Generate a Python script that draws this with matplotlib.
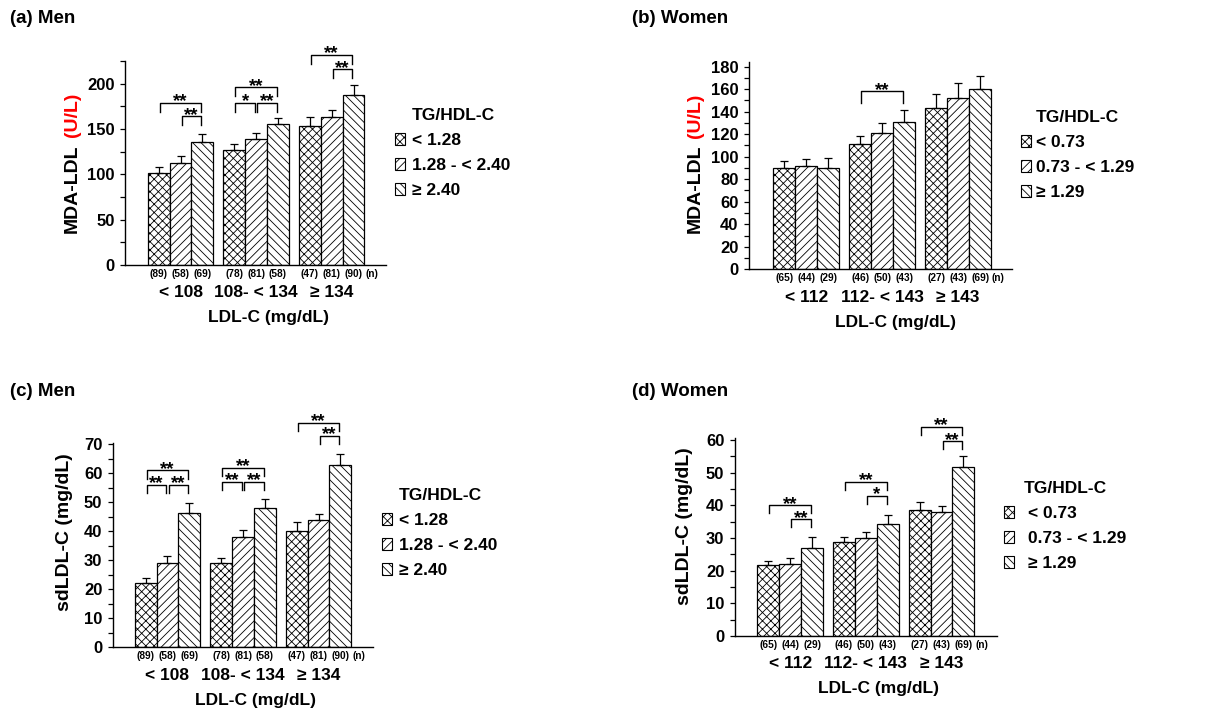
import numpy as np
import matplotlib
matplotlib.use('Agg')
import matplotlib.pyplot as plt
from matplotlib.patches import Patch
from matplotlib.ticker import MultipleLocator

plt.rcParams['font.family'] = ['Liberation Sans', 'DejaVu Sans']
plt.rcParams['font.weight'] = 'bold'
plt.rcParams['hatch.linewidth'] = 0.6

W, H = 1228, 710

# ---- data -------------------------------------------------------------
men_ldl = ['< 108', '108- < 134', '\u2265 134']
women_ldl = ['< 112', '112- < 143', '\u2265 143']
men_tg = ['< 1.28', '1.28 - < 2.40', '\u2265 2.40']
women_tg = ['< 0.73', '0.73 - < 1.29', '\u2265 1.29']
men_n = [[89, 58, 69], [78, 81, 58], [47, 81, 90]]
women_n = [[65, 44, 29], [46, 50, 43], [27, 43, 69]]

# MDA-LDL (U/L): mean and SE, rows = LDL-C group, cols = TG/HDL-C group
mda_men = [[102, 112, 136], [127, 139, 155], [153, 163, 188]]
mda_men_se = [[6, 8, 9], [7, 7, 7], [10, 8, 11]]
mda_women = [[90, 92, 90], [111, 121, 131], [143, 152, 160]]
mda_women_se = [[6, 6, 9], [7, 9, 10], [13, 13, 12]]

# sdLDL-C (mg/dL)
sd_men = [[22.3, 29.2, 46.4], [29.2, 38.0, 47.9], [40.2, 43.8, 62.9]]
sd_men_se = [[1.5, 2.3, 3.5], [1.5, 2.6, 3.4], [2.9, 2.3, 3.7]]
sd_women = [[21.6, 21.9, 26.8], [28.7, 30.0, 34.2], [38.5, 37.9, 51.8]]
sd_women_se = [[1.4, 2.0, 3.6], [1.7, 1.7, 2.9], [2.4, 1.9, 3.3]]

# significance brackets: (LDL-C group, bar i, bar j, height, stars)
mda_men_sig = [(0, 0, 2, 179, '**'), (0, 1, 2, 164, '**'),
               (1, 0, 2, 196, '**'), (1, 0, 1, 179, '*'), (1, 1, 2, 179, '**'),
               (2, 0, 2, 232, '**'), (2, 1, 2, 216, '**')]
mda_women_sig = [(1, 0, 2, 158, '**')]
sd_men_sig = [(0, 0, 2, 61, '**'), (0, 0, 1, 56, '**'), (0, 1, 2, 56, '**'),
              (1, 0, 2, 62, '**'), (1, 0, 1, 57, '**'), (1, 1, 2, 57, '**'),
              (2, 0, 2, 77.5, '**'), (2, 1, 2, 73, '**')]
sd_women_sig = [(0, 0, 2, 40, '**'), (0, 1, 2, 35.7, '**'),
                (1, 0, 2, 47.2, '**'), (1, 1, 2, 42.9, '*'),
                (2, 0, 2, 63.9, '**'), (2, 1, 2, 59.6, '**')]

HATCHES = ['xxxx', '////', '\\\\\\\\']
BW = 0.29
OFFS = [-BW, 0, BW]

fig = plt.figure(figsize=(W / 100, H / 100), dpi=100)


def px_rect(l, t, r, b):
    return [l / W, 1 - b / H, (r - l) / W, (b - t) / H]


def panel(rect, xlim, ylim, major, minor, means, se, ns, groups, tg, sig, leg,
          ylab, ylab_x, ylab_y, legend_at, textpad):
    ax = fig.add_axes(px_rect(*rect))
    means = np.array(means)
    se = np.array(se)
    xg = np.arange(len(groups))
    xax = ax.get_xaxis_transform()
    for k in range(3):
        xs = xg + OFFS[k]
        ax.bar(xs, means[:, k], width=BW, color='white', edgecolor='black',
               hatch=HATCHES[k], linewidth=0.9, zorder=2)
        ax.errorbar(xs, means[:, k], yerr=[np.zeros(len(xs)), se[:, k]], fmt='none',
                    ecolor='black', elinewidth=0.9, capsize=3, capthick=0.9, zorder=3)
        for g in range(len(groups)):
            ax.annotate(f'({ns[g][k]})', (xs[g], 0), xycoords=xax,
                        xytext=(0, -6.5), textcoords='offset points',
                        ha='center', va='center', fontsize=7.3)
    ax.annotate('(n)', (2.53, 0), xycoords=xax, xytext=(0, -6.5),
                textcoords='offset points', ha='center', va='center', fontsize=7.3)
    for g, lab in enumerate(groups):
        ax.annotate(lab, (g, 0), xycoords=xax, xytext=(0, -20),
                    textcoords='offset points', ha='center', va='center', fontsize=12.5)
    ax.annotate('LDL-C (mg/dL)', (1.17, 0), xycoords=xax, xytext=(0, -38),
                textcoords='offset points', ha='center', va='center', fontsize=12.5)

    # significance brackets
    for g, i, j, y, stars in sig:
        x1 = g + OFFS[i] + 0.015
        x2 = g + OFFS[j] - 0.015
        ax.plot([x1, x1, x2, x2], [y - leg, y, y, y - leg], color='black',
                lw=1, clip_on=False, zorder=4)
        ax.annotate(stars, ((x1 + x2) / 2, y), xytext=(0, -2.5),
                    textcoords='offset points', ha='center', va='baseline',
                    fontsize=13.5, annotation_clip=False)

    ax.set_xlim(*xlim)
    ax.set_ylim(*ylim)
    ax.set_xticks([])
    ax.yaxis.set_major_locator(MultipleLocator(major))
    ax.yaxis.set_minor_locator(MultipleLocator(minor))
    ax.tick_params(axis='y', which='both', direction='out', length=3.5, width=0.9,
                   labelsize=12, pad=4)
    for s in ['top', 'right']:
        ax.spines[s].set_visible(False)
    for s in ['left', 'bottom']:
        ax.spines[s].set_linewidth(1)

    # y label, possibly two-coloured
    if len(ylab) == 1:
        ax.text(ylab_x, ylab_y[0], ylab[0][0], color=ylab[0][1], rotation=90,
                ha='center', va='center', fontsize=14, transform=ax.transAxes)
    else:
        ax.text(ylab_x, ylab_y[0], ylab[0][0], color=ylab[0][1], rotation=90,
                ha='center', va='top', fontsize=14, transform=ax.transAxes)
        ax.text(ylab_x, ylab_y[1], ylab[1][0], color=ylab[1][1], rotation=90,
                ha='center', va='bottom', fontsize=14, transform=ax.transAxes)

    handles = [Patch(facecolor='white', edgecolor='black', hatch=HATCHES[k], lw=0.8)
               for k in range(3)]
    ax.legend(handles, tg, loc='upper left',
              bbox_to_anchor=(legend_at[0] / W, 1 - legend_at[1] / H),
              bbox_transform=fig.transFigure, frameon=False, borderpad=0, borderaxespad=0,
              title='TG/HDL-C', title_fontproperties={'weight': 'bold', 'size': 12.5},
              prop={'size': 12.5, 'weight': 'bold'}, handlelength=0.6, handleheight=0.65,
              handletextpad=textpad, labelspacing=0.58)
    return ax


panel((125, 61, 386, 265), (-0.735, 2.72), (0, 225), 50, 25, mda_men, mda_men_se, men_n,
      men_ldl, men_tg, mda_men_sig, 10, [('MDA-LDL', 'black'), ('(U/L)', 'red')],
      -0.203, (0.59, 0.625), (395, 108), 0.4)
panel((749, 62, 1012, 269.3), (-0.757, 2.71), (0, 184), 20, 10, mda_women, mda_women_se,
      women_n, women_ldl, women_tg, mda_women_sig, 10,
      [('MDA-LDL', 'black'), ('(U/L)', 'red')], -0.203, (0.6, 0.635), (1021, 110), 0.25)
panel((112.7, 442.9, 372.7, 647.3), (-0.725, 2.717), (0, 70.5), 10, 5, sd_men, sd_men_se,
      men_n, men_ldl, men_tg, sd_men_sig, 2.8, [('sdLDL-C (mg/dL)', 'black')],
      -0.186, (0.565,), (382, 488), 0.4)
panel((734.7, 438.2, 996.7, 636), (-0.735, 2.73), (0, 60.5), 10, 5, sd_women, sd_women_se,
      women_n, women_ldl, women_tg, sd_women_sig, 2.5, [('sdLDL-C (mg/dL)', 'black')],
      -0.193, (0.558,), (1004, 481), 0.8)

for txt, x, y in [('(a) Men', 10, 18.3), ('(b) Women', 632, 18.3),
                  ('(c) Men', 10, 391.7), ('(d) Women', 632, 391.7)]:
    fig.text(x / W, 1 - y / H, txt, ha='left', va='center', fontsize=13.5, weight='bold')

fig.savefig('out.png', dpi=100)
